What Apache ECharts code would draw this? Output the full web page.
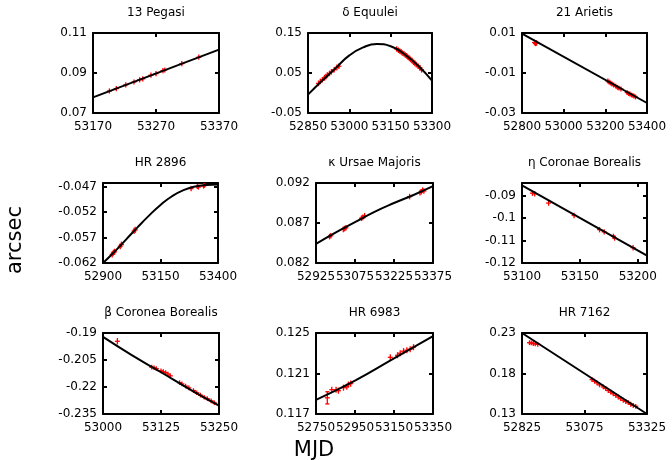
<!DOCTYPE html>
<html>
<head>
<meta charset="utf-8">
<script src="https://cdn.jsdelivr.net/npm/echarts@6/dist/echarts.min.js"></script>
<style>
  html, body { margin: 0; padding: 0; background: #fff; }
  #chart { width: 672px; height: 460px; }
</style>
</head>
<body>
<div id="chart"></div>
<script>
// panel titles, left to right, top to bottom
const titles = ['13 Pegasi', 'δ Equulei', '21 Arietis', 'HR 2896', 'κ Ursae Majoris',
  'η Coronae Borealis', 'β Coronea Borealis', 'HR 6983', 'HR 7162'];

// axis ranges and tick values
const xRanges = [[53170, 53370], [52850, 53300], [52800, 53400], [52900, 53400], [52925, 53375],
  [53100, 53208], [53000, 53250], [52750, 53350], [52825, 53325]];
const yRanges = [[0.07, 0.11], [-0.05, 0.15], [-0.03, 0.01], [-0.062, -0.0463], [0.082, 0.092],
  [-0.12, -0.0845], [-0.235, -0.19], [0.117, 0.125], [0.13, 0.23]];
const xTicks = [[53170, 53270, 53370], [52850, 53000, 53150, 53300], [52800, 53000, 53200, 53400],
  [52900, 53150, 53400], [52925, 53075, 53225, 53375], [53100, 53150, 53200],
  [53000, 53125, 53250], [52750, 52950, 53150, 53350], [52825, 53075, 53325]];
const yTicks = [[0.07, 0.09, 0.11], [-0.05, 0.05, 0.15], [-0.03, -0.01, 0.01],
  [-0.062, -0.057, -0.052, -0.047], [0.082, 0.087, 0.092], [-0.12, -0.11, -0.1, -0.09],
  [-0.235, -0.22, -0.205, -0.19], [0.117, 0.121, 0.125], [0.13, 0.18, 0.23]];

// fitted orbit curves [MJD, arcsec]
const pegFit = [[53170, 0.0778], [53370, 0.1017]];
const equFit = [[52850, -0.004], [52900, 0.030], [52950, 0.062], [53000, 0.094], [53050, 0.114],
  [53100, 0.1225], [53150, 0.117], [53200, 0.097], [53250, 0.068], [53300, 0.031]];
const ariFit = [[52800, 0.0097], [53400, -0.0250]];
const hr2896Fit = [[52900, -0.0620], [52950, -0.0598], [53000, -0.0574], [53050, -0.0550],
  [53100, -0.0527], [53150, -0.0506], [53200, -0.0489], [53250, -0.0477], [53300, -0.0470],
  [53350, -0.0467], [53400, -0.0466]];
const umaFit = [[52925, 0.0844], [53000, 0.0858], [53075, 0.0871], [53150, 0.0884],
  [53225, 0.0895], [53300, 0.0905], [53375, 0.0916]];
const etaFit = [[53100, -0.0856], [53208, -0.1167]];
const betaFit = [[53000, -0.1922], [53062, -0.2023], [53125, -0.2118], [53187, -0.2213], [53250, -0.2304]];
const hr6983Fit = [[52750, 0.1184], [52950, 0.1203], [53150, 0.1225], [53350, 0.1247]];
const hr7162Fit = [[52825, 0.2300], [53325, 0.1300]];

// observations [MJD, arcsec, error]
const pegObs = [[53196, 0.0810, 0.0013], [53207, 0.0822, 0.0013], [53222, 0.0841, 0.0013],
  [53235, 0.0855, 0.0013], [53244, 0.0866, 0.0013], [53249, 0.0871, 0.0013], [53262, 0.0889, 0.0013],
  [53270, 0.0897, 0.0013], [53281, 0.0912, 0.0013], [53284, 0.0915, 0.0013], [53311, 0.0947, 0.0013],
  [53338, 0.0979, 0.0013]];
const equObs = [[52888, 0.024, 0.007], [52895, 0.029, 0.007], [52902, 0.033, 0.007], [52910, 0.038, 0.007],
  [52915, 0.041, 0.007], [52920, 0.045, 0.007], [52928, 0.049, 0.007], [52935, 0.053, 0.007],
  [52945, 0.058, 0.007], [52955, 0.064, 0.007], [52962, 0.067, 0.007],
  [53172, 0.110, 0.007], [53178, 0.107, 0.007], [53183, 0.105, 0.007], [53188, 0.103, 0.007],
  [53192, 0.100, 0.007], [53198, 0.098, 0.007], [53203, 0.095, 0.007], [53208, 0.093, 0.007],
  [53212, 0.090, 0.007], [53218, 0.087, 0.007], [53222, 0.084, 0.007], [53228, 0.081, 0.007],
  [53233, 0.077, 0.007], [53238, 0.074, 0.007], [53243, 0.071, 0.007], [53250, 0.067, 0.007],
  [53256, 0.063, 0.007], [53262, 0.058, 0.007]];
const ariObs = [[52860, 0.0052, 0.0014], [52865, 0.0048, 0.0014], [52870, 0.0050, 0.0014],
  [53212, -0.0140, 0.0012], [53218, -0.0145, 0.0012], [53225, -0.0150, 0.0012], [53232, -0.0155, 0.0012],
  [53240, -0.0160, 0.0012], [53250, -0.0166, 0.0012], [53258, -0.0172, 0.0012], [53265, -0.0176, 0.0012],
  [53275, -0.0180, 0.0012], [53305, -0.0198, 0.0012], [53312, -0.0203, 0.0012], [53318, -0.0205, 0.0012],
  [53325, -0.0210, 0.0012], [53332, -0.0212, 0.0012], [53338, -0.0216, 0.0012], [53345, -0.0220, 0.0012]];
const hr2896Obs = [[52940, -0.0603, 0.0006], [52945, -0.0600, 0.0006], [52950, -0.0598, 0.0006],
  [52975, -0.0587, 0.0006], [52980, -0.0584, 0.0006], [53035, -0.0557, 0.0006], [53040, -0.0555, 0.0006],
  [53283, -0.0474, 0.0005], [53310, -0.0470, 0.0005], [53315, -0.0471, 0.0005], [53337, -0.0469, 0.0005],
  [53340, -0.0468, 0.0005]];
const umaObs = [[52977, 0.0853, 0.00035], [52982, 0.0854, 0.00035], [53030, 0.0862, 0.00035],
  [53035, 0.0863, 0.00035], [53040, 0.0864, 0.00035], [53100, 0.0876, 0.00035], [53105, 0.0877, 0.00035],
  [53112, 0.0879, 0.00035], [53285, 0.0903, 0.00035], [53325, 0.0908, 0.00035], [53330, 0.0909, 0.00035],
  [53335, 0.0911, 0.00035], [53340, 0.0910, 0.00035]];
const etaObs = [[53109, -0.0890, 0.0012], [53111, -0.0893, 0.0012], [53123, -0.0934, 0.0012],
  [53145, -0.0989, 0.0012], [53167, -0.1052, 0.0012], [53171, -0.1062, 0.0012], [53179, -0.1082, 0.0012],
  [53180, -0.1089, 0.0012], [53196, -0.1132, 0.0012]];
const betaObs = [[53031, -0.1946, 0.0018], [53105, -0.2090, 0.0013], [53110, -0.2093, 0.0013],
  [53115, -0.2098, 0.0013], [53125, -0.2110, 0.0013], [53130, -0.2115, 0.0013], [53135, -0.2120, 0.0013],
  [53140, -0.2128, 0.0013], [53145, -0.2138, 0.0013], [53165, -0.2176, 0.0013], [53170, -0.2183, 0.0013],
  [53178, -0.2195, 0.0013], [53185, -0.2205, 0.0013], [53195, -0.2220, 0.0013], [53202, -0.2232, 0.0013],
  [53210, -0.2245, 0.0013], [53218, -0.2257, 0.0013], [53225, -0.2265, 0.0013], [53233, -0.2277, 0.0013],
  [53240, -0.2288, 0.0013]];
const hr6983Obs = [[52808, 0.1186, 0.0006], [52831, 0.1194, 0.0003], [52853, 0.1194, 0.0003],
  [52865, 0.1193, 0.0003], [52891, 0.1196, 0.0003], [52908, 0.1197, 0.0003], [52916, 0.1199, 0.0003],
  [52928, 0.1200, 0.0003], [53131, 0.1226, 0.0003], [53168, 0.1228, 0.0003], [53182, 0.1230, 0.0003],
  [53199, 0.1232, 0.0003], [53216, 0.1233, 0.0003], [53233, 0.1234, 0.0003], [53250, 0.1236, 0.0003]];
const hr7162Obs = [[52855, 0.2180, 0.003], [52862, 0.2178, 0.003], [52870, 0.2170, 0.003],
  [52878, 0.2165, 0.003], [52888, 0.2160, 0.003],
  [53105, 0.1725, 0.003], [53115, 0.1705, 0.003], [53125, 0.1685, 0.003], [53135, 0.1660, 0.003],
  [53150, 0.1635, 0.003], [53160, 0.1615, 0.003], [53170, 0.1590, 0.003], [53180, 0.1570, 0.003],
  [53190, 0.1550, 0.003], [53200, 0.1530, 0.003], [53210, 0.1510, 0.003], [53220, 0.1490, 0.003],
  [53230, 0.1470, 0.003], [53240, 0.1455, 0.003], [53250, 0.1440, 0.003], [53260, 0.1420, 0.003],
  [53270, 0.1405, 0.003], [53280, 0.1395, 0.003]];

const fits = [pegFit, equFit, ariFit, hr2896Fit, umaFit, etaFit, betaFit, hr6983Fit, hr7162Fit];
const observations = [pegObs, equObs, ariObs, hr2896Obs, umaObs, etaObs, betaObs, hr6983Obs, hr7162Obs];

// plot boxes in pixels
const boxes = [
  [93, 33, 126, 80], [308, 33, 124, 80], [522, 33, 125, 80],
  [103, 183, 115, 80], [316, 183, 117, 80], [522, 183, 125, 80],
  [103, 333, 116, 81], [316, 333, 117, 81], [522, 333, 125, 81]
];

const FONT = 'DejaVu Sans';
const RED = '#ff0000';

function renderCross(params, api) {
  const x = api.value(0), y = api.value(1), e = api.value(2);
  const c = api.coord([x, y]);
  const hi = api.coord([x, y + e]);
  const lo = api.coord([x, y - e]);
  const w = 2.5;
  const style = { stroke: RED, lineWidth: 1.3 };
  const children = [
    { type: 'line', shape: { x1: c[0] - w, y1: c[1], x2: c[0] + w, y2: c[1] }, style },
    { type: 'line', shape: { x1: c[0], y1: hi[1], x2: c[0], y2: lo[1] }, style }
  ];
  if (lo[1] - hi[1] > 9) {
    children.push({ type: 'line', shape: { x1: c[0] - 2, y1: hi[1], x2: c[0] + 2, y2: hi[1] }, style });
    children.push({ type: 'line', shape: { x1: c[0] - 2, y1: lo[1], x2: c[0] + 2, y2: lo[1] }, style });
  }
  return { type: 'group', children };
}

const grid = [], xAxis = [], yAxis = [], series = [], graphic = [];

titles.forEach((title, i) => {
  const [left, top, width, height] = boxes[i];
  grid.push({ left, top, width, height, show: false });

  const axisCommon = {
    type: 'value', gridIndex: i,
    axisLine: { show: true, onZero: false, lineStyle: { color: '#000', width: 2 } },
    axisTick: { show: true, inside: true, length: 4, lineStyle: { color: '#000', width: 2 } },
    splitLine: { show: false }
  };
  const labelStyle = { color: '#000', fontFamily: FONT, fontSize: 12, formatter: v => String(v) };

  xAxis.push(Object.assign({}, axisCommon, {
    position: 'bottom', min: xRanges[i][0], max: xRanges[i][1],
    axisTick: Object.assign({}, axisCommon.axisTick, { customValues: xTicks[i] }),
    axisLabel: Object.assign({ margin: 8, customValues: xTicks[i] }, labelStyle)
  }));
  xAxis.push(Object.assign({}, axisCommon, {
    position: 'top', min: xRanges[i][0], max: xRanges[i][1],
    axisTick: Object.assign({}, axisCommon.axisTick, { customValues: xTicks[i] }),
    axisLabel: { show: false }
  }));
  yAxis.push(Object.assign({}, axisCommon, {
    position: 'left', min: yRanges[i][0], max: yRanges[i][1],
    axisTick: Object.assign({}, axisCommon.axisTick, { customValues: yTicks[i] }),
    axisLabel: Object.assign({ margin: 6, customValues: yTicks[i] }, labelStyle)
  }));
  yAxis.push(Object.assign({}, axisCommon, {
    position: 'right', min: yRanges[i][0], max: yRanges[i][1],
    axisTick: Object.assign({}, axisCommon.axisTick, { customValues: yTicks[i] }),
    axisLabel: { show: false }
  }));

  series.push({
    type: 'custom', xAxisIndex: 2 * i, yAxisIndex: 2 * i,
    data: observations[i], renderItem: renderCross, z: 2, clip: true
  });
  series.push({
    type: 'line', xAxisIndex: 2 * i, yAxisIndex: 2 * i,
    data: fits[i], smooth: fits[i].length > 2, showSymbol: false, silent: true,
    lineStyle: { color: '#000', width: 2 }, z: 3, clip: true
  });

  graphic.push({
    type: 'text', x: left + width / 2, y: top - 20,
    style: { text: title, fill: '#000', font: '12px "' + FONT + '"', textAlign: 'center', textVerticalAlign: 'middle' }
  });
});

graphic.push({
  type: 'text', x: 16, y: 240, rotation: Math.PI / 2,
  style: { text: 'arcsec', fill: '#000', font: '21px "' + FONT + '"', textAlign: 'center', textVerticalAlign: 'middle' }
});
graphic.push({
  type: 'text', x: 314, y: 451,
  style: { text: 'MJD', fill: '#000', font: '21px "' + FONT + '"', textAlign: 'center', textVerticalAlign: 'middle' }
});

const chart = echarts.init(document.getElementById('chart'), null, { renderer: 'canvas' });
chart.setOption({
  animation: false,
  backgroundColor: '#fff',
  grid, xAxis, yAxis, series, graphic
});
</script>
</body>
</html>
